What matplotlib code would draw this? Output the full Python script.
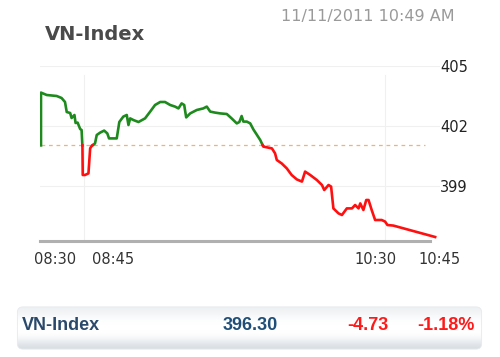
import matplotlib.pyplot as plt
import numpy as np
from matplotlib.patches import FancyBboxPatch
from matplotlib.colors import LinearSegmentedColormap

# minutes after 08:30 and index value
minutes = [0, 0, 2.0, 5.5, 7.2, 8.4, 9.0, 10.2, 10.7, 11.7, 12.1, 12.8, 13.7, 14.2, 14.5,
           14.6, 15.4, 16.6, 17.2, 17.7, 18.9, 19.5, 20.7, 22.1, 23.2, 23.8, 26.5, 27.4,
           28.8, 30.0, 30.6, 31.2, 32.3, 34.1, 36.4, 38.2, 39.9, 41.7, 43.4, 45.2, 46.9,
           48.1, 49.2, 50.1, 50.8, 52.2, 54.5, 56.8, 58.0, 59.2, 60.9, 62.7, 65.0, 66.7,
           68.5, 69.4, 70.2, 70.8, 72.0, 73.2, 74.3, 76.7, 77.8, 80.8, 81.9, 82.5, 84.2,
           86.0, 87.7, 89.5, 91.3, 92.4, 94.2, 96.5, 98.3, 99.1, 100.6, 101.5, 102.3,
           104.1, 105.3, 107.0, 108.8, 109.9, 111.1, 111.7, 112.8, 113.8, 114.6, 115.7,
           116.9, 119.2, 120.4, 121.2, 123.3, 137.9]
values = [401.03, 403.67, 403.55, 403.5, 403.4, 403.2, 402.7, 402.65, 402.4, 402.55, 402.15,
          402.17, 401.85, 401.8, 400.97, 399.55, 399.55, 399.63, 400.88, 401.0, 401.13,
          401.55, 401.67, 401.77, 401.63, 401.38, 401.38, 402.2, 402.47, 402.55, 402.05,
          402.38, 402.3, 402.2, 402.38, 402.72, 403.05, 403.2, 403.2, 403.05, 402.97,
          402.88, 403.13, 403.05, 402.43, 402.63, 402.8, 402.88, 402.97, 402.72, 402.67,
          402.63, 402.6, 402.38, 402.13, 402.2, 402.5, 402.22, 402.22, 402.13, 401.83,
          401.3, 400.97, 400.88, 400.63, 400.3, 400.13, 399.88, 399.55, 399.33, 399.22,
          399.72, 399.55, 399.3, 399.05, 398.8, 399.05, 398.97, 397.88, 397.63, 397.55,
          397.88, 397.88, 398.05, 397.88, 398.13, 397.8, 398.3, 398.3, 397.8, 397.3,
          397.3, 397.22, 397.05, 397.02, 396.45]
prev_close = 401.03
yticks = [399, 402, 405]
tick_pos = [4.9, 25.2, 116.9, 139.5]
tick_labels = ['08:30', '08:45', '10:30', '10:45']
grid_times = [15, 120.3]

summary_name = 'VN-Index'
summary_value = '396.30'
summary_change = '-4.73'
summary_pct = '-1.18%'

# split the line into parts above / below the previous close
t = np.array(minutes, dtype=float)
v = np.array(values, dtype=float)
xs, ys = [t[0]], [v[0]]
for i in range(1, len(t)):
    a, b = v[i - 1] - prev_close, v[i] - prev_close
    if a * b < 0:
        f = a / (a - b)
        xs.append(t[i - 1] + f * (t[i] - t[i - 1]))
        ys.append(prev_close)
    xs.append(t[i])
    ys.append(v[i])
xs, ys = np.array(xs), np.array(ys)
up = np.ma.masked_where(ys < prev_close - 1e-9, ys)
down = np.ma.masked_where(ys > prev_close + 1e-9, ys)

fig = plt.figure(figsize=(5, 3.57), dpi=100)
fig.patch.set_facecolor('white')
ax = fig.add_axes([0.08, 1 - 241 / 357, 0.8, 175 / 357])

ax.set_xlim(-0.35, 139.6)
ax.set_ylim(396.25, 405)

for yv in yticks:
    ax.axhline(yv, color='#f0f0f0', lw=0.8, zorder=0)
for gt in grid_times:
    ax.axvline(gt, ymax=0.95, color='#f0f0f0', lw=0.8, zorder=0)

ax.plot(xs, up, color='#1e8a1e', lw=1.9, solid_joinstyle='round', zorder=3)
ax.plot(xs, down, color='#ff1010', lw=1.9, solid_joinstyle='round', zorder=3)
ax.plot([0, 134.5], [prev_close, prev_close], color='#f5b26b', lw=0.9,
        ls=(0, (3, 3)), zorder=2)

for s in ['top', 'left', 'right']:
    ax.spines[s].set_visible(False)
ax.spines['bottom'].set_color('#b0b0b0')
ax.spines['bottom'].set_linewidth(2.2)
ax.spines['bottom'].set_bounds(-0.35, 136.2)

ax.yaxis.tick_right()
ax.set_yticks(yticks)
ax.set_yticklabels([str(y) for y in yticks], fontsize=10.5, color='#222222')
ax.tick_params(axis='y', length=0, pad=0)
ax.set_xticks(tick_pos)
ax.set_xticklabels(tick_labels, fontsize=10.5, color='#333333')
ax.tick_params(axis='x', length=0, pad=8)

fig.text(45 / 500, 1 - 35 / 357, 'VN-Index', fontsize=14, fontweight='bold',
         color='#4a4a4a', ha='left', va='center')
fig.text(455 / 500, 1 - 16 / 357, '11/11/2011 10:49 AM', fontsize=11.5,
         color='#9a9a9a', ha='right', va='center')

# summary bar with soft vertical gradient
bax = fig.add_axes([16 / 500, 1 - 350 / 357, 467 / 500, 44 / 357])
bax.set_xlim(0, 1)
bax.set_ylim(0, 1)
bax.axis('off')
cmap = LinearSegmentedColormap.from_list('bar', ['#d9dee4', '#ffffff'])
grad = np.array([0.0, 0.35, 0.8, 1.0, 1.0, 1.0, 0.9, 0.7, 0.55])[:, None]
img = bax.imshow(grad, cmap=cmap, vmin=0, vmax=1, aspect='auto',
                 extent=[0, 1, 0, 1], origin='lower', interpolation='bicubic')
box = FancyBboxPatch((0.003, 0.02), 0.994, 0.96, boxstyle='round,pad=0,rounding_size=0.012',
                     transform=bax.transAxes, facecolor='none', edgecolor='#e6eaee', lw=0.6,
                     mutation_aspect=10)
bax.add_patch(box)
img.set_clip_path(box)

fig.text(22 / 500, 1 - 325 / 357, summary_name, fontsize=13, fontweight='bold',
         family='Liberation Sans', color='#2b4a6b', ha='left', va='center')
fig.text(250 / 500, 1 - 325 / 357, summary_value, fontsize=13, fontweight='bold',
         family='Liberation Sans', color='#1f4e79', ha='center', va='center')
fig.text(388 / 500, 1 - 325 / 357, summary_change, fontsize=13, fontweight='bold',
         family='Liberation Sans', color='#ff1a1a', ha='right', va='center')
fig.text(475 / 500, 1 - 325 / 357, summary_pct, fontsize=13, fontweight='bold',
         family='Liberation Sans', color='#ff1a1a', ha='right', va='center')

fig.savefig('out.png', dpi=100)
